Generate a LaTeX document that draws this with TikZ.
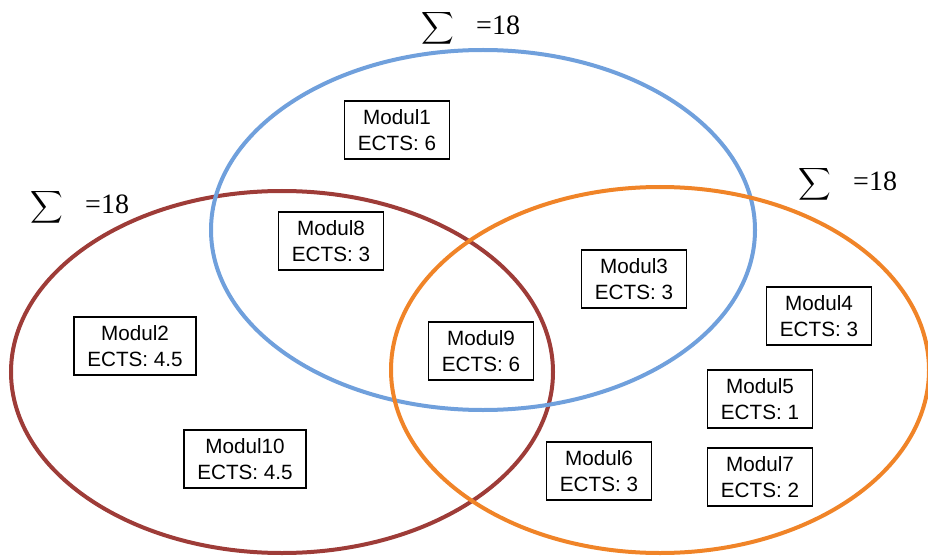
\documentclass[tikz,border=0pt]{standalone}
\usepackage{amssymb}
\usepackage{amsmath}
\usepackage{fontspec}
\setmainfont{Liberation Sans}
\newfontfamily\sumfont{Liberation Serif}
\usepackage{tikz}

\definecolor{setblue}{RGB}{112,160,220}
\definecolor{setred}{RGB}{158,60,56}
\definecolor{setorange}{RGB}{240,132,40}

\tikzset{
  modbox/.style={draw, thick, align=center, inner xsep=10pt, minimum height=43.5pt,
    font=\fontsize{15.5}{20}\selectfont},
  setline/.style={line width=3pt},
}

\begin{document}
\begin{tikzpicture}[x=0.75pt,y=-0.75pt]
\useasboundingbox (0,0) rectangle (928,556);
% the three sets
\draw[setline, setred] (282,372) ellipse [x radius=271, y radius=181];
\draw[setline, setblue] (483,230) ellipse [x radius=272, y radius=180];
\draw[setline, setorange] (660,370) ellipse [x radius=269, y radius=183];
% sums
\foreach \s/\x/\y in {a/438/28, b/47/207, c/815/184} {
\node[inner sep=0pt] (sig\s) at (\x,\y) {\fontsize{17}{20}\selectfont$\displaystyle\sum$};
\node[anchor=west, inner sep=0pt, font=\sumfont\fontsize{21}{22}\selectfont] (sum\s) at ([xshift=16pt,yshift=2pt]sig\s.east) {=18};
}
% modules
\foreach \n/\x/\y/\e in {1/397/130/6, 2/135/346/4.5, 3/634/279/3, 4/819/316/3, 5/760/399/1,
  6/599/471/3, 7/760/477/2, 8/331/241/3, 9/481/351/6, 10/245/459/4.5} {
\node[modbox] (m\n) at (\x,\y) {Modul\n\\ECTS: \e};
}
\end{tikzpicture}
\end{document}
